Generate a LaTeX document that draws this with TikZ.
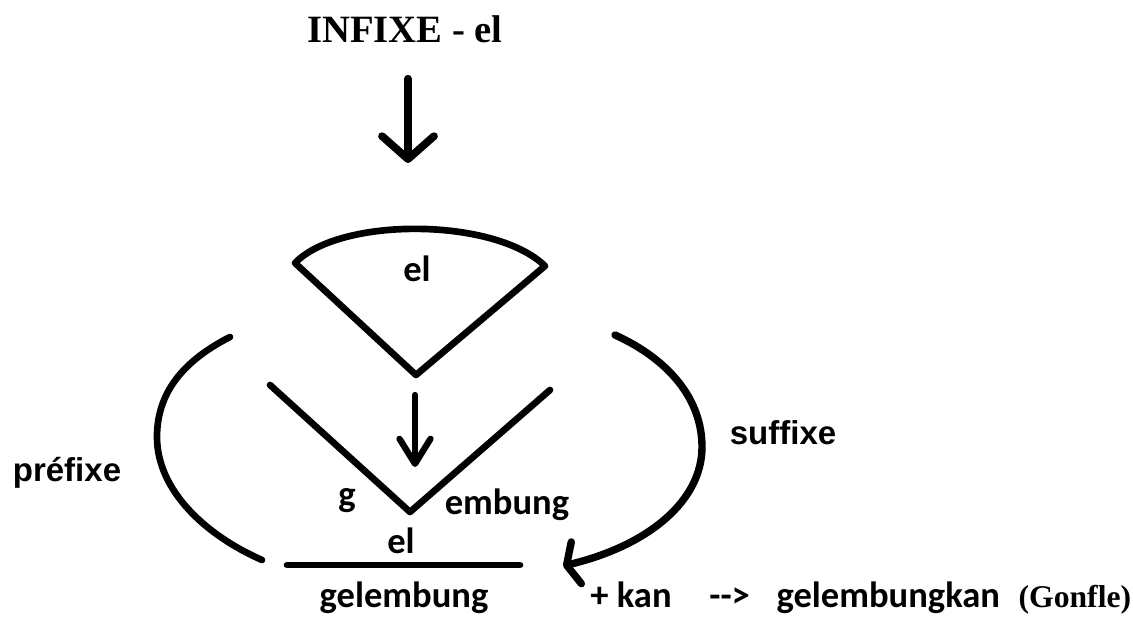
\documentclass[tikz,border=0pt]{standalone}
\usepackage{fontspec}
\usepackage{tikz}
\usetikzlibrary{arrows.meta,positioning}
\newfontfamily\titlefont{Liberation Serif}
\newfontfamily\bodyfont{Carlito}
\newfontfamily\sidefont{Liberation Sans}

\begin{document}
\begin{tikzpicture}[line cap=round, line join=round]
  % Styles
  \tikzstyle{headword} = [inner sep=0pt, anchor=base, font=\titlefont\bfseries\fontsize{22}{26}\selectfont]
  \tikzstyle{glossword} = [inner sep=0pt, anchor=base, font=\titlefont\bfseries\fontsize{18}{20}\selectfont]
  \tikzstyle{word} = [inner sep=0pt, anchor=base, font=\bodyfont\bfseries\fontsize{20.8}{24}\selectfont]
  \tikzstyle{sideword} = [inner sep=0pt, anchor=base, font=\sidefont\bfseries\fontsize{18.8}{22}\selectfont]
  \tikzstyle{stroke} = [line width=3.8pt]
  \tikzstyle{bigarrow} = [line width=4.4pt, -{Straight Barb[length=0.46cm, width=1.04cm, round]}]
  \tikzstyle{midarrow} = [line width=3.6pt, -{Straight Barb[length=0.50cm, width=0.62cm, round]}]
  \tikzstyle{sidearrow} = [line width=4.2pt, -{Straight Barb[length=0.20cm, width=0.86cm, round]}]

  \useasboundingbox (0,0) rectangle (22.66,12.48);

  % Points of the figure
  \coordinate (fanleft) at (5.90,7.22);
  \coordinate (fanright) at (10.90,7.16);
  \coordinate (fanbottom) at (8.32,4.98);
  \coordinate (vleft) at (5.40,4.78);
  \coordinate (vbottom) at (8.20,2.24);
  \coordinate (vright) at (11.00,4.68);
  \coordinate (lineleft) at (5.74,1.18);
  \coordinate (lineright) at (10.40,1.18);
  \coordinate (toptip) at (8.16,9.22);
  \coordinate (midtip) at (8.30,3.14);
  \coordinate (suffixend) at (11.26,1.16);

  % Nodes
  \node [headword] (infixe) at (8.10,11.62) {INFIXE - el};
  \node [word] (fanel) at (8.34,6.84) {el};
  \node [word] (g) at (6.94,2.34) {g};
  \node [word] (embung) at (10.14,2.18) {embung};
  \node [word] (infix) at (8.02,1.40) {el};
  \node [word] (gelembung) at (8.08,0.32) {gelembung};
  \node [sideword] (prefixe) at (1.34,2.84) {préfixe};
  \node [sideword] (suffixe) at (15.66,3.58) {suffixe};
  \node [word] (kan) at (12.62,0.32) {+ kan};
  \node [word, base right=0.74cm of kan] (yields) {-{}->};
  \node [word, base right=0.52cm of yields] (gelembungkan) {gelembungkan};
  \node [glossword, base right=0.36cm of gelembungkan] (gonfle) {(Gonfle)};

  % Fan, V and bar
  \draw [stroke] (fanleft) .. controls (6.80,8.15) and (9.90,8.13) .. (fanright) -- (fanbottom) -- cycle;
  \draw [stroke] (vleft) -- (vbottom) -- (vright);
  \draw [stroke] (lineleft) -- (lineright);

  % Arrows
  \draw [bigarrow, shorten <=0.70cm] (infixe.south -| toptip) -- (toptip);
  \draw [midarrow, shorten <=0.40cm] (fanbottom -| midtip) -- (midtip);

  % Side arcs
  \draw [stroke] (4.60,5.74) .. controls (3.50,5.18) and (3.14,4.48) .. (3.14,3.74)
                 .. controls (3.14,2.68) and (4.10,1.78) .. (5.24,1.28);
  \draw [sidearrow] (12.30,5.78) .. controls (13.40,5.28) and (14.04,4.48) .. (14.04,3.54)
                    .. controls (14.04,2.48) and (13.00,1.58) .. (suffixend);

\end{tikzpicture}
\end{document}
